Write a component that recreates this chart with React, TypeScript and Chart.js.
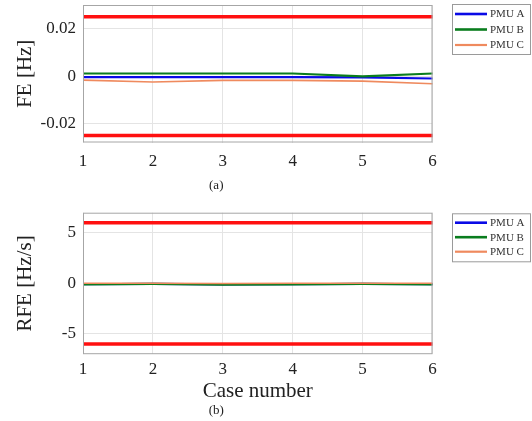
import React, { useEffect, useRef } from "react";
import { Chart, registerables } from "chart.js";

Chart.register(...registerables);

const cases = ["1", "2", "3", "4", "5", "6"];

const feA = [-0.0004, -0.0004, -0.0004, -0.0004, -0.0005, -0.001];
const feB = [0.0011, 0.0011, 0.0011, 0.0011, -0.0001, 0.0011];
const feC = [-0.0017, -0.0025, -0.0018, -0.0018, -0.0021, -0.0032];
const feUpper = [0.025, 0.025, 0.025, 0.025, 0.025, 0.025];
const feLower = [-0.025, -0.025, -0.025, -0.025, -0.025, -0.025];
const feTicks = [-0.02, 0, 0.02];

const rfeA = [-0.08, -0.05, -0.1, -0.08, -0.05, -0.08];
const rfeB = [-0.1, -0.05, -0.12, -0.1, -0.05, -0.1];
const rfeC = [0.02, 0.02, 0.0, 0.02, 0.02, 0.02];
const rfeUpper = [6, 6, 6, 6, 6, 6];
const rfeLower = [-6, -6, -6, -6, -6, -6];
const rfeTicks = [-5, 0, 5];

const SERIF = "'Liberation Serif', 'Times New Roman', serif";
const BLUE = "#0a0ae6";
const GREEN = "#0a7d1e";
const ORANGE = "#ef8a5e";
const RED = "#ff1010";

const boxPlugin = {
  id: "boxLegend",
  afterDatasetsDraw(chart: any, _args: any, opts: any) {
    const ctx = chart.ctx;
    const ca = chart.chartArea;
    ctx.save();
    // axes box
    ctx.strokeStyle = "#a6a6a6";
    ctx.lineWidth = 1;
    ctx.strokeRect(ca.left + 0.5, ca.top + 0.5, ca.right - ca.left - 1, ca.bottom - ca.top - 1);
    // legend
    const x = ca.right + opts.dx;
    ctx.fillStyle = "#ffffff";
    ctx.fillRect(x, opts.top, opts.width, opts.height);
    ctx.strokeStyle = "#9a9a9a";
    ctx.strokeRect(x + 0.5, opts.top + 0.5, opts.width, opts.height);
    const items = chart.data.datasets.filter((d: any) => !d.hideInLegend);
    items.forEach((d: any, i: number) => {
      const y = opts.firstRow + i * opts.rowGap;
      ctx.strokeStyle = d.borderColor;
      ctx.lineWidth = d.legendWidth || 2;
      ctx.beginPath();
      ctx.moveTo(x + 3, y);
      ctx.lineTo(x + 35, y);
      ctx.stroke();
      ctx.fillStyle = "#333333";
      ctx.font = "11px " + SERIF;
      ctx.textBaseline = "middle";
      ctx.textAlign = "left";
      ctx.fillText(d.label, x + 38, y + 0.5);
    });
    ctx.restore();
  },
};

function makeConfig(p: any) {
  return {
    type: "line",
    data: {
      labels: cases,
      datasets: [
        { label: "PMU A", data: p.a, borderColor: BLUE, borderWidth: 2.2, legendWidth: 2.6, order: 3 },
        { label: "PMU B", data: p.b, borderColor: GREEN, borderWidth: 2.2, legendWidth: 2.6, order: 2 },
        { label: "PMU C", data: p.c, borderColor: ORANGE, borderWidth: 1.6, legendWidth: 2.2, order: 1 },
        { label: "Upper", data: p.upper, borderColor: RED, borderWidth: 3.5, hideInLegend: true, order: 4 },
        { label: "Lower", data: p.lower, borderColor: RED, borderWidth: 3.5, hideInLegend: true, order: 5 },
      ].map((d: any) => ({ ...d, pointRadius: 0, tension: 0, fill: false })),
    },
    options: {
      responsive: false,
      animation: false,
      events: [],
      layout: { autoPadding: false, padding: { left: 0, right: 99.5, top: p.padTop, bottom: 0 } },
      plugins: {
        legend: { display: false },
        tooltip: { enabled: false },
        title: {
          display: true,
          position: "bottom",
          text: p.sub,
          color: "#222",
          font: { family: SERIF, size: 13, lineHeight: 1, weight: "normal" },
          padding: { top: 0, bottom: p.subPad },
        },
        boxLegend: p.legend,
      },
      scales: {
        x: {
          type: "category",
          offset: false,
          grid: { color: "#e4e4e4", drawTicks: false },
          border: { display: false },
          ticks: { color: "#222", font: { family: SERIF, size: 17 }, padding: p.xTickPad, maxRotation: 0 },
          title: p.xTitle
            ? { display: true, text: p.xTitle, color: "#222", font: { family: SERIF, size: 21, lineHeight: 1 }, padding: { top: 0, bottom: 2 } }
            : { display: false },
          afterFit: (s: any) => {
            s.height = p.xHeight;
          },
        },
        y: {
          min: p.min,
          max: p.max,
          grid: { color: "#e4e4e4", drawTicks: false },
          border: { display: false },
          afterBuildTicks: (s: any) => {
            s.ticks = p.ticks.map((v: number) => ({ value: v }));
          },
          ticks: {
            color: "#222",
            font: { family: SERIF, size: 17 },
            padding: 7,
            callback: (v: any) => String(v),
          },
          title: {
            display: true,
            text: p.yTitle,
            color: "#222",
            font: { family: SERIF, size: 21, lineHeight: 1 },
            padding: { top: 15, bottom: 0 },
          },
          afterFit: (s: any) => {
            s.width = 83;
            s.paddingTop = 0;
            s.paddingBottom = 0;
          },
        },
      },
    },
    plugins: [boxPlugin],
  };
}

function Panel(props: { cfg: any; height: number; top: number }) {
  const ref = useRef<HTMLCanvasElement | null>(null);
  useEffect(() => {
    const chart = new Chart(ref.current as HTMLCanvasElement, props.cfg as any);
    return () => chart.destroy();
  }, []);
  return (
    <canvas
      ref={ref}
      width={532}
      height={props.height}
      style={{ position: "absolute", left: 0, top: props.top, width: 532, height: props.height, display: "block" }}
    />
  );
}

export default function App() {
  const top = makeConfig({
    a: feA, b: feB, c: feC, upper: feUpper, lower: feLower,
    min: -0.028, max: 0.03, ticks: feTicks,
    yTitle: "FE [Hz]", sub: "(a)", subPad: 7.5, padTop: 5,
    xHeight: 37, xTickPad: 9, xTitle: null,
    legend: { dx: 19.5, top: 4, width: 78, height: 50, firstRow: 14, rowGap: 15.5 },
  });
  const bottom = makeConfig({
    a: rfeA, b: rfeB, c: rfeC, upper: rfeUpper, lower: rfeLower,
    min: -7, max: 7, ticks: rfeTicks,
    yTitle: "RFE [Hz/s]", sub: "(b)", subPad: 4, padTop: 12.7,
    xHeight: 49.8, xTickPad: 5, xTitle: "Case number",
    legend: { dx: 19.5, top: 13.3, width: 78, height: 48, firstRow: 22.7, rowGap: 14.5 },
  });
  return (
    <div style={{ position: "fixed", left: 0, top: 0, width: 532, height: 421, background: "#fff" }}>
      <Panel cfg={top} height={200} top={0} />
      <Panel cfg={bottom} height={221} top={200} />
    </div>
  );
}
